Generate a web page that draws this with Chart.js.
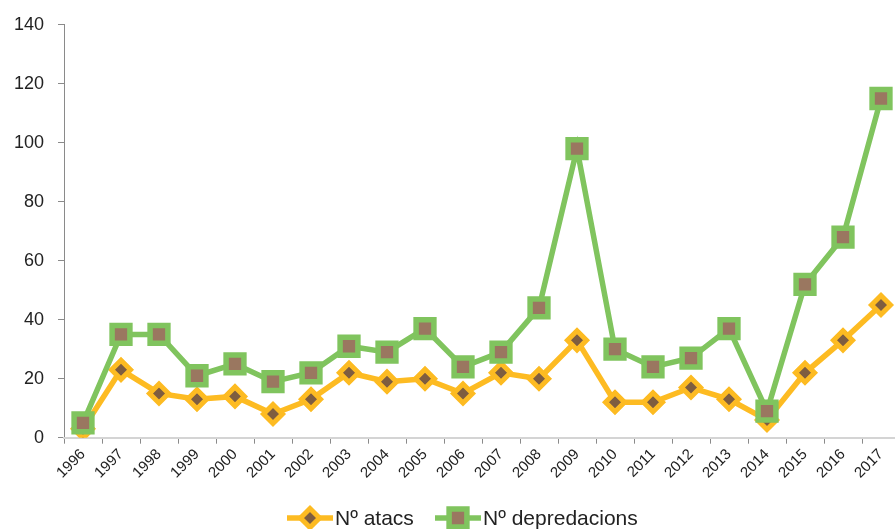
<!DOCTYPE html>
<html>
<head>
<meta charset="utf-8">
<script src="https://cdn.jsdelivr.net/npm/chart.js@4/dist/chart.umd.min.js"></script>
<style>
  html, body { margin: 0; padding: 0; background: #fff; overflow: hidden; }
  /* plot runs a few px past the right edge in the original */
  #wrap { width: 900px; height: 529px; position: relative; }
</style>
</head>
<body>
<div id="wrap"><canvas id="chart"></canvas></div>
<script>
// Chart data
const years = ['1996', '1997', '1998', '1999', '2000', '2001', '2002', '2003', '2004', '2005', '2006',
    '2007', '2008', '2009', '2010', '2011', '2012', '2013', '2014', '2015', '2016', '2017'];
const atacs = [3, 23, 15, 13, 14, 8, 13, 22, 19, 20, 15, 22, 20, 33, 12, 12, 17, 13, 6, 22, 33, 45];
const depredacions = [5, 35, 35, 21, 25, 19, 22, 31, 29, 37, 24, 29, 44, 98, 30, 24, 27, 37, 9, 52, 68, 115];
const yTicks = [0, 20, 40, 60, 80, 100, 120, 140];
const seriesNames = ['Nº atacs', 'Nº depredacions'];

const ORANGE = '#FDBB22';
const GREEN = '#80C45E';
const BROWN_SQ = '#9A7760';
const BROWN_DIA = '#7E5D40';

// Legend drawn as line + marker, like the original
const lineLegend = {
    id: 'lineLegend',
    afterDraw(chart) {
        const ctx = chart.ctx;
        const y = 518;
        const items = [
            { x: 287, ds: chart.data.datasets[0] },
            { x: 435, ds: chart.data.datasets[1] }
        ];
        ctx.save();
        ctx.font = '21px "Liberation Sans", Arial, sans-serif';
        ctx.textBaseline = 'middle';
        items.forEach(item => {
            const ds = item.ds;
            ctx.strokeStyle = ds.borderColor;
            ctx.lineWidth = ds.borderWidth;
            ctx.beginPath();
            ctx.moveTo(item.x, y);
            ctx.lineTo(item.x + 46, y);
            ctx.stroke();
            ctx.fillStyle = ds.pointBackgroundColor;
            ctx.strokeStyle = ds.pointBorderColor;
            ctx.lineWidth = ds.pointBorderWidth;
            Chart.helpers.drawPoint(ctx, {
                pointStyle: ds.pointStyle,
                radius: ds.pointRadius,
                borderWidth: ds.pointBorderWidth,
                rotation: 0
            }, item.x + 23, y);
            ctx.fillStyle = '#222';
            ctx.fillText(ds.label, item.x + 48, y + 1);
        });
        ctx.restore();
    }
};

const ctx = document.getElementById('chart');
new Chart(ctx, {
    type: 'line',
    data: {
        labels: years,
        datasets: [{
            label: seriesNames[0],
            data: atacs,
            borderColor: ORANGE,
            borderWidth: 5.5,
            pointStyle: 'rectRot',
            pointRadius: 9.5,
            pointBorderWidth: 5,
            pointBackgroundColor: BROWN_DIA,
            pointBorderColor: ORANGE,
            tension: 0,
            order: 2
        }, {
            label: seriesNames[1],
            data: depredacions,
            borderColor: GREEN,
            borderWidth: 5.5,
            pointStyle: 'rect',
            pointRadius: 12.6,
            pointBorderWidth: 5.5,
            pointBackgroundColor: BROWN_SQ,
            pointBorderColor: GREEN,
            tension: 0,
            order: 1
        }]
    },
    options: {
        responsive: true,
        maintainAspectRatio: false,
        animation: false,
        layout: {
            autoPadding: false,
            padding: { top: 22, right: 0, left: 0, bottom: 45 }
        },
        plugins: {
            legend: { display: false },
            tooltip: { enabled: false }
        },
        scales: {
            y: {
                min: 0,
                max: 140,
                afterBuildTicks: (axis) => {
                    axis.ticks = yTicks.map(v => ({ value: v }));
                },
                afterFit: (axis) => { axis.width = 64; },
                border: { color: '#8a8a8a', width: 1 },
                grid: {
                    drawOnChartArea: false,
                    drawTicks: true,
                    tickLength: 6,
                    color: '#8a8a8a'
                },
                ticks: {
                    color: '#222',
                    padding: 14,
                    font: { family: '"Liberation Sans", Arial, sans-serif', size: 18 }
                }
            },
            x: {
                offset: true,
                afterFit: (axis) => { axis.paddingRight = 0; },
                border: { color: '#d4d4d4', width: 2 },
                grid: {
                    offset: true,
                    drawOnChartArea: false,
                    tickLength: 6,
                    color: '#8a8a8a'
                },
                ticks: {
                    color: '#222',
                    autoSkip: false,
                    minRotation: 45,
                    maxRotation: 45,
                    padding: 2,
                    font: { family: '"Liberation Sans", Arial, sans-serif', size: 15 }
                }
            }
        }
    },
    plugins: [lineLegend]
});
</script>
</body>
</html>
